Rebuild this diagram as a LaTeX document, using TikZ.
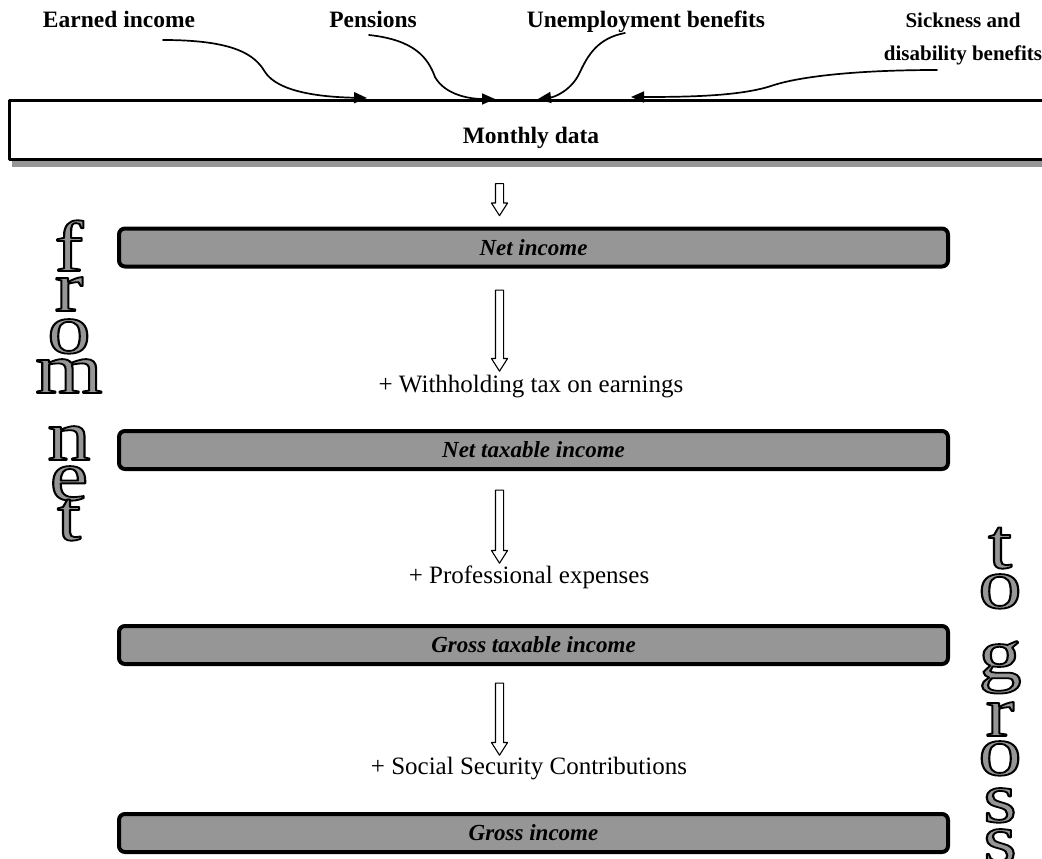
\documentclass[tikz,border=0pt]{standalone}
\usepackage{fontspec}
\setmainfont{Liberation Serif}
\newfontfamily\hollowfont[FakeBold=2.5]{Liberation Serif}
\usetikzlibrary{arrows.meta}
\usetikzlibrary{shapes.arrows}
\usetikzlibrary{shadows}
\usetikzlibrary{positioning}
\definecolor{boxgray}{HTML}{969696}
\newcommand{\outl}[1]{\scalebox{1.2}[1]{\special{pdf:bcolor [0.59] [0]}#1\special{pdf:ecolor}}}

\begin{document}
\begin{tikzpicture}[x=1pt,y=-1pt,line cap=round,line join=round,>={Triangle[length=13pt,width=11pt]},
  toplabel/.style={font=\fontsize{23.5}{33}\selectfont\bfseries,align=center,anchor=base,inner sep=0},
  monthbox/.style={draw=black,line width=3pt,fill=white,minimum width=1043,minimum height=59,inner sep=0,text height=32pt,text depth=5pt,font=\fontsize{23.5}{28}\selectfont\bfseries,drop shadow={shadow xshift=2pt,shadow yshift=-7pt,fill=boxgray,opacity=1}},
  stage/.style={draw=black,line width=4pt,fill=boxgray,rounded corners=6pt,minimum width=829,minimum height=38,inner sep=0,font=\fontsize{23}{28}\selectfont\bfseries\itshape},
  addlabel/.style={font=\fontsize{25}{30}\selectfont,anchor=base,inner sep=0},
  hollowdown/.style={single arrow,draw=black,fill=white,line width=1.1pt,rotate=-90,inner sep=3.5pt,minimum width=15pt,single arrow tip angle=65,single arrow head extend=4pt},
  feed/.style={->,line width=1.7pt},
  bigletter/.style={font=\fontsize{72}{72}\hollowfont,anchor=base,inner sep=0}]
\useasboundingbox (0,0) rectangle (1042,859);
\clip (0,0) rectangle (1042,859);

\node[toplabel] (earned) at (119,28) {Earned income};
\node[toplabel] (pensions) at (373,28) {Pensions};
\node[toplabel] (unemp) at (646,28) {Unemployment benefits};
\node[toplabel,anchor=center,font=\fontsize{21}{33}\selectfont\bfseries] (sick) at (963,39) {Sickness and\\disability benefits};

\node[monthbox] (monthly) at (531,130) {Monthly data};

\coordinate (earnedfrom) at (163,40);
\coordinate (earnedto) at (367,98);
\coordinate (pensfrom) at (369,35);
\coordinate (pensto) at (495,99);
\coordinate (unempfrom) at (625,33);
\coordinate (unempto) at (538,99);
\coordinate (sickfrom) at (937,70);
\coordinate (sickto) at (631,97);
\draw[feed] (earnedfrom) .. controls (235,40) and (255,55) .. (265,72) .. controls (278,92) and (320,97) .. (earnedto);
\draw[feed] (pensfrom) .. controls (415,40) and (428,58) .. (435,77) .. controls (445,95) and (470,99) .. (pensto);
\draw[feed] (unempfrom) .. controls (598,38) and (588,55) .. (580,72) .. controls (572,90) and (555,97) .. (unempto);
\draw[feed] (sickfrom) .. controls (860,70) and (800,76) .. (771,86) .. controls (740,96) and (690,97) .. (sickto);

\node[stage] (net) at (533.5,247.5) {Net income};
\node[stage] (nettax) at (533.5,450) {Net taxable income};
\node[stage] (grosstax) at (533.5,645) {Gross taxable income};
\node[stage] (gross) at (533.5,833) {Gross income};

\node[hollowdown,minimum height=32] (down0) at (499.5,196.5) {};
\node[hollowdown,minimum height=81] (down1) at (499.5,327.5) {};
\node[hollowdown,minimum height=73] (down2) at (499.5,523.5) {};
\node[hollowdown,minimum height=72] (down3) at (499.5,716) {};

\node[addlabel] (withhold) at (531,392) {+ Withholding tax on earnings};
\node[addlabel] (profexp) at (529,583) {+ Professional expenses};
\node[addlabel] (socsec) at (529,774) {+ Social Security Contributions};

\foreach \ch/\yy [count=\i] in {f/271,r/311,o/353,m/393,n/460,e/500,t/540}
  \node[bigletter] (from\i) at (69,\yy) {\outl{\ch}};
\foreach \ch/\yy [count=\i] in {t/568,o/608,g/678,r/736,o/775,s/822,s/863}
  \node[bigletter] (togross\i) at (1000,\yy) {\outl{\ch}};
\end{tikzpicture}
\end{document}
